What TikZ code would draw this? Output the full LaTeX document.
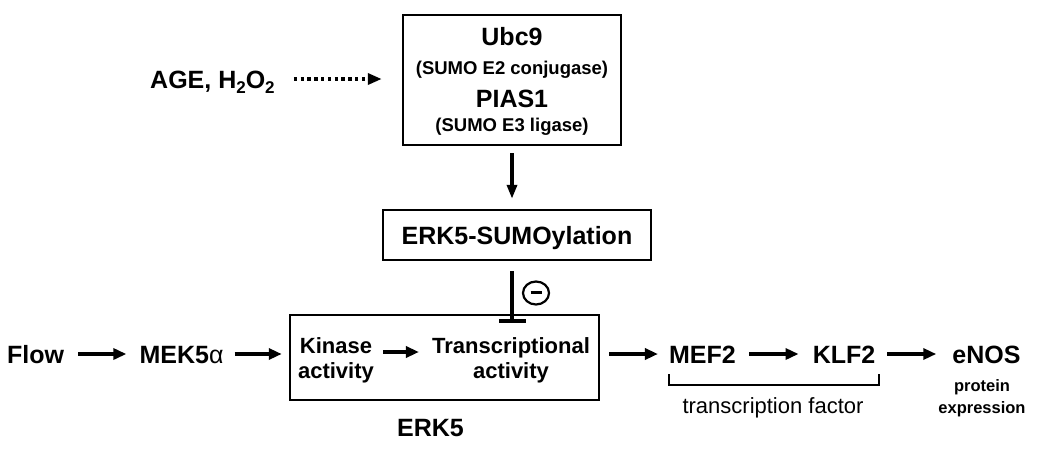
\documentclass[tikz,border=0pt]{standalone}
\usepackage{fontspec}
\setmainfont{Liberation Sans}
\usetikzlibrary{arrows.meta,calc}
\begin{document}
\begin{tikzpicture}[x=1pt,y=1pt,
  lab/.style={inner sep=0pt, anchor=base, text height=18pt, text depth=0pt, font=\fontsize{25}{30}\selectfont\bfseries},
  mid/.style={inner sep=0pt, anchor=base, font=\fontsize{22}{26}\selectfont\bfseries},
  sub/.style={inner sep=0pt, anchor=base, font=\fontsize{18.5}{22}\selectfont\bfseries},
  sm/.style={inner sep=0pt, anchor=base, font=\fontsize{16.5}{20}\selectfont\bfseries},
  reg/.style={inner sep=0pt, anchor=base, font=\fontsize{22}{26}\selectfont},
  box/.style={draw, line width=2.5pt, inner sep=0pt},
  arr/.style={line width=4pt, -{Triangle[length=13pt,width=11pt]}},
  darr/.style={line width=3.4pt, dash pattern=on 3.4pt off 3.4pt, -{Triangle[length=14pt,width=11pt]}},
]
\useasboundingbox (0,0) rectangle (1050,-456);

% top box
\node[box, minimum width=218pt, minimum height=130pt] (top) at (512,-80) {};
\node[lab] (ubc) at (512,-45) {Ubc9};
\node[sub] (e2) at (512,-74) {(SUMO E2 conjugase)};
\node[lab] (pias) at (512,-107) {PIAS1};
\node[sub] (e3) at (512,-131) {(SUMO E3 ligase)};

% AGE
\node[lab, anchor=base west] (age) at (150,-88) {AGE, H\raisebox{-5pt}{\fontsize{17}{17}\selectfont 2}O\raisebox{-5pt}{\fontsize{17}{17}\selectfont 2}};
\draw[darr] ($(age.east)+(19,0)$) -- ($(top.west|-age.east)+(-20,0)$);

% SUMOylation box
\node[box, minimum width=268pt, minimum height=50pt, text height=18pt, text depth=0pt,
      font=\fontsize{25}{30}\selectfont\bfseries] (sumo) at (517,-235) {ERK5-SUMOylation};
\draw[line width=3.4pt, -{Triangle[length=14pt,width=10pt]}] ($(top.south)+(0,-7)$) -- ($(top.south|-sumo.north)+(0,10)$);

% ERK5 box
\node[box, minimum width=309pt, minimum height=85pt] (erk) at (444.5,-357.5) {};
\node[mid] (kin1) at (336,-353) {Kinase};
\node[mid] (kin2) at (336,-378) {activity};
\node[mid] (tr1) at (511,-353) {Transcriptional};
\node[mid] (tr2) at (511,-378) {activity};
\draw[arr] ($(kin1.base east)+(11,1)$) -- ($(tr1.base west)+(-13,1)$);
\node[lab] (erklab) at (430.5,-436) {ERK5};

% inhibition
\coordinate (inhs) at ($(sumo.south)+(-5,-10)$);
\coordinate (inhe) at ($(erk.north)+(67.5,-9)$);
\draw[line width=3.2pt, -{Bar[width=27pt,line width=3.4pt]}] (inhs) -- (inhe);
\draw[line width=2.2pt] (536,-293) ellipse [x radius=13pt, y radius=11.5pt];
\draw[line width=3pt] (530.5,-292) -- (541.5,-292);

% main row
\node[lab] (flow) at (35.5,-363) {Flow};
\node[lab] (mek) at (181.5,-363) {MEK5{\mdseries α}};
\node[lab] (mef) at (702.5,-363) {MEF2};
\node[lab] (klf) at (844,-363) {KLF2};
\node[lab] (enos) at (986.5,-363) {eNOS};
\node[sm] (prot) at (982,-391) {protein};
\node[sm] (expr) at (982,-413) {expression};

\draw[arr] ($(flow.east)+(14,0)$) -- ($(mek.west)+(-13,0)$);
\draw[arr] ($(mek.east)+(11,0)$) -- ($(erk.west|-mek.east)+(-7,0)$);
\draw[arr] ($(erk.east|-mef.west)+(9,0)$) -- ($(mef.west)+(-11,0)$);
\draw[arr] ($(mef.east)+(13,0)$) -- ($(klf.west)+(-14,0)$);
\draw[arr] ($(klf.east)+(12,0)$) -- ($(enos.west)+(-16,0)$);

% bracket
\coordinate (bl) at (669,-374);
\coordinate (br) at (879,-374);
\draw[line width=2.5pt] (bl) -- ++(0,-11) -| (br);
\node[reg] (tf) at (773,-413) {transcription factor};
\end{tikzpicture}
\end{document}
